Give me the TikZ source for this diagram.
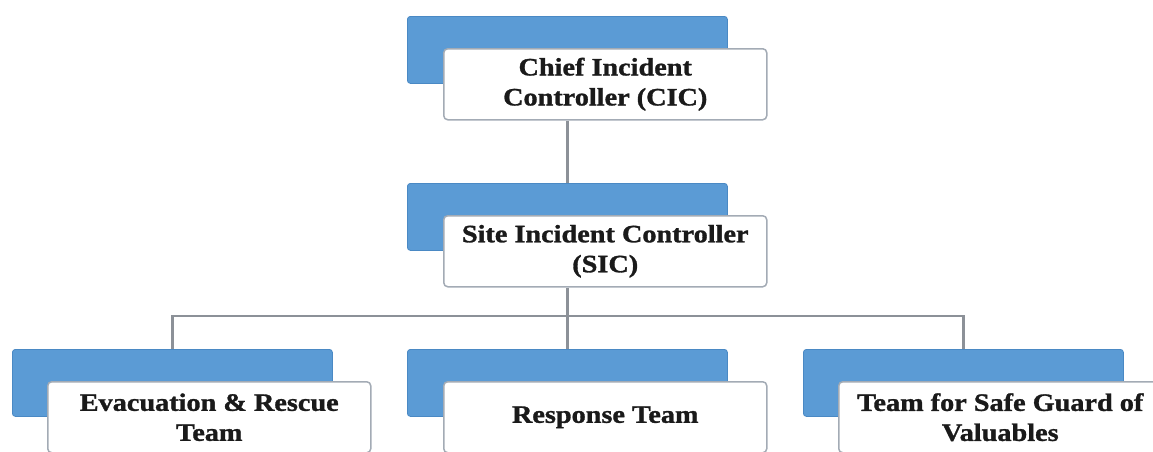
\documentclass[tikz,border=0pt]{standalone}
\usepackage{fontspec}
\setmainfont{Liberation Serif}
\newfontfamily\boxfont[FakeStretch=1.13,FakeBold=1.2]{Liberation Serif}
\definecolor{boxblue}{HTML}{5B9BD5}
\definecolor{boxblueedge}{HTML}{4A89C4}
\definecolor{bordergray}{HTML}{A3ABB5}
\definecolor{linegray}{HTML}{8C9198}
\definecolor{textblack}{HTML}{1A1A1A}
\tikzset{
  bluebox/.style={rectangle, rounded corners=3pt, fill=boxblue, draw=boxblueedge, line width=0.8pt,
    minimum width=320pt, minimum height=67pt, anchor=north west, inner sep=0pt},
  whitebox/.style={rectangle, rounded corners=4pt, fill=white, draw=bordergray, line width=1.5pt,
    minimum width=323pt, minimum height=71pt, anchor=north west, inner sep=0pt, align=center,
    text=textblack, font=\boxfont\fontsize{25}{30}\selectfont\bfseries},
  conn/.style={draw=linegray, line width=2.5pt}
}
\begin{document}
\begin{tikzpicture}[x=1pt,y=-1pt]
\useasboundingbox (0,0) rectangle (1153,451);
% level 1
\node[bluebox] (b1) at (407,16) {};
\node[whitebox] (w1) at (443,48) {Chief Incident\\Controller (CIC)};
% level 2
\node[bluebox] (b2) at (407,183) {};
\node[whitebox] (w2) at (443,215) {Site Incident Controller\\(SIC)};
% level 3
\node[bluebox] (b3) at (12,349) {};
\node[whitebox] (w3) at (47,381) {Evacuation \& Rescue\\Team};
\node[bluebox] (b4) at (407,349) {};
\node[whitebox] (w4) at (443,381) {Response Team};
\node[bluebox] (b5) at (803,349) {};
\node[whitebox] (w5) at (838,381) {Team for Safe Guard of\\Valuables};
% connectors
\coordinate (bus) at (567,316);
\draw[conn] (w1.south -| b1.north) -- (b2.north);
\draw[conn] (w2.south -| b2.north) -- (b4.north);
\draw[conn] (b3.north) |- (bus) -| (b5.north);
\end{tikzpicture}
\end{document}
